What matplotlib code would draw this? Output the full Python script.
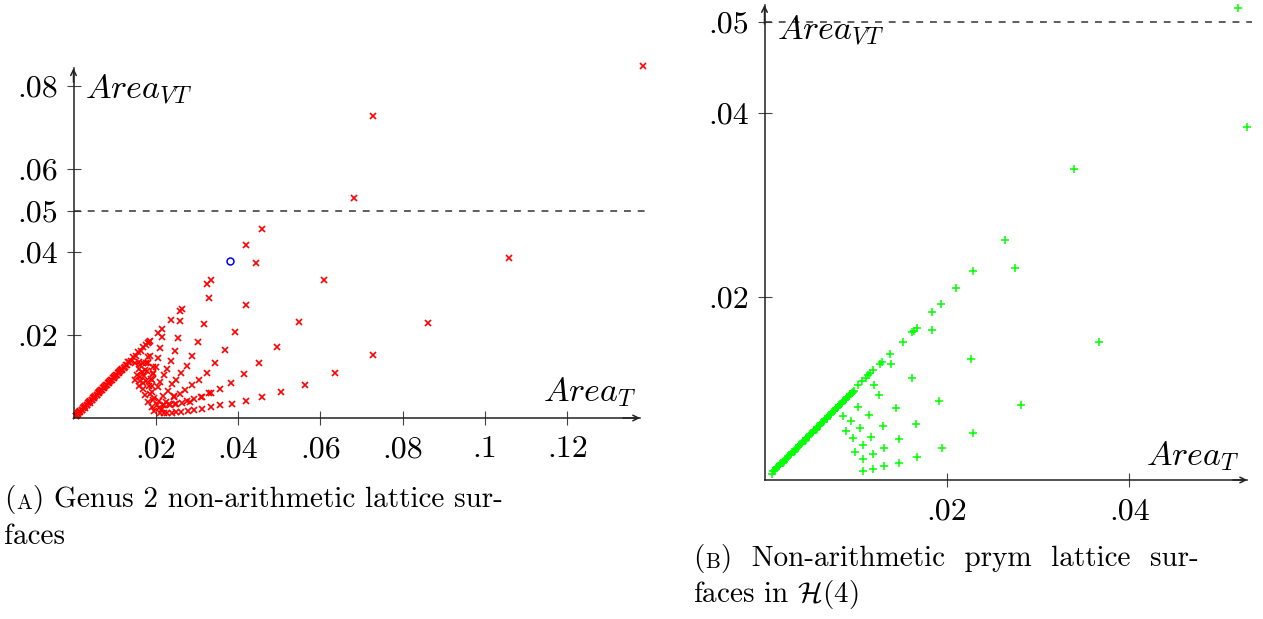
import matplotlib
matplotlib.use('Agg')
import matplotlib.pyplot as plt

plt.rcParams['font.family'] = 'cmr10'
plt.rcParams['mathtext.fontset'] = 'cm'
plt.rcParams['axes.unicode_minus'] = False

# ---- (A) genus 2, red crosses ----
diag_a_x = [0.0005, 0.0008, 0.0011, 0.0014, 0.0017, 0.0020, 0.0023, 0.0026, 0.0029, 0.0032,
            0.0035, 0.0038, 0.0041, 0.0044, 0.0047, 0.0050, 0.0053, 0.0056, 0.0059, 0.0062,
            0.0065, 0.0068, 0.0071, 0.0074, 0.0077, 0.0080, 0.0083, 0.0086, 0.0089, 0.0092,
            0.0095, 0.0098, 0.0101, 0.0104, 0.0107, 0.0110, 0.0113, 0.0116, 0.0119, 0.0122,
            0.0127, 0.0133, 0.0139, 0.0145, 0.0151, 0.0157, 0.0163, 0.0169, 0.0175, 0.0180,
            0.0184, 0.0187,
            0.0007, 0.0012, 0.0016, 0.0021, 0.0027, 0.0033, 0.0039, 0.0045, 0.0051, 0.0057,
            0.0063, 0.0069, 0.0075, 0.0081, 0.0087, 0.0093, 0.0099, 0.0105, 0.0111, 0.0117,
            0.0124, 0.0130, 0.0136]
diag_a_y = [0.0006, 0.0008, 0.0012, 0.0014, 0.0018, 0.0020, 0.0024, 0.0026, 0.0030, 0.0032,
            0.0036, 0.0038, 0.0042, 0.0044, 0.0048, 0.0050, 0.0054, 0.0056, 0.0060, 0.0062,
            0.0066, 0.0068, 0.0072, 0.0074, 0.0078, 0.0080, 0.0084, 0.0086, 0.0090, 0.0092,
            0.0096, 0.0098, 0.0102, 0.0104, 0.0108, 0.0110, 0.0113, 0.0116, 0.0118, 0.0121,
            0.0128, 0.0134, 0.0138, 0.0146, 0.0150, 0.0158, 0.0162, 0.0170, 0.0176, 0.0181,
            0.0183, 0.0186,
            0.0005, 0.0010, 0.0015, 0.0019, 0.0025, 0.0031, 0.0037, 0.0043, 0.0049, 0.0055,
            0.0061, 0.0067, 0.0073, 0.0079, 0.0085, 0.0091, 0.0097, 0.0103, 0.0109, 0.0115,
            0.0122, 0.0128, 0.0134]

fan_a_x = [0.0459, 0.0419, 0.0444, 0.0334, 0.0324, 0.0610, 0.0329, 0.0419, 0.0264, 0.0260,
           0.0548, 0.0238, 0.0260, 0.0316, 0.0216, 0.0393, 0.0205, 0.0216, 0.0255, 0.0303,
           0.0495, 0.0367, 0.0246, 0.0211, 0.0289, 0.0451, 0.0344, 0.0237, 0.0205, 0.0276,
           0.0636, 0.0414, 0.0324, 0.0262, 0.0228, 0.0304, 0.0382, 0.0563, 0.0249, 0.0287,
           0.0239, 0.0355, 0.0505, 0.0271, 0.0330, 0.0311, 0.0458, 0.0258, 0.0244, 0.0419,
           0.0386, 0.0357, 0.0335, 0.0313, 0.0294, 0.0278, 0.0262, 0.0250, 0.0239, 0.0228,
           0.0219, 0.0283, 0.0264, 0.0246, 0.0231, 0.0217,
           0.0200, 0.0193, 0.0220, 0.0188, 0.0211, 0.0177, 0.0183, 0.0205, 0.0229, 0.0190,
           0.0217, 0.0245, 0.0276, 0.0195, 0.0207, 0.0225, 0.0202, 0.0221, 0.0235, 0.0249,
           0.0294, 0.0312, 0.0333, 0.0181, 0.0176, 0.0179, 0.0215, 0.0209, 0.0210,
           0.0149, 0.0158, 0.0162, 0.0170, 0.0158, 0.0166, 0.0174, 0.0154, 0.0162, 0.0172,
           0.0149, 0.0162, 0.0170, 0.0158, 0.0168, 0.0191, 0.0174, 0.0186, 0.0182, 0.0194,
           0.0190, 0.0196, 0.0186, 0.0193, 0.0193, 0.0191, 0.0180]
fan_a_y = [0.0455, 0.0417, 0.0374, 0.0333, 0.0322, 0.0333, 0.0288, 0.0272, 0.0262, 0.0259,
           0.0231, 0.0237, 0.0234, 0.0226, 0.0215, 0.0207, 0.0204, 0.0196, 0.0192, 0.0182,
           0.0171, 0.0164, 0.0161, 0.0168, 0.0150, 0.0133, 0.0133, 0.0137, 0.0145, 0.0126,
           0.0108, 0.0105, 0.0109, 0.0108, 0.0117, 0.0092, 0.0085, 0.0080, 0.0092, 0.0079,
           0.0081, 0.0071, 0.0063, 0.0068, 0.0060, 0.0051, 0.0050, 0.0059, 0.0054, 0.0042,
           0.0034, 0.0031, 0.0026, 0.0022, 0.0020, 0.0017, 0.0015, 0.0014, 0.0013, 0.0011,
           0.0011, 0.0038, 0.0035, 0.0034, 0.0033, 0.0031,
           0.0124, 0.0105, 0.0103, 0.0093, 0.0087, 0.0088, 0.0078, 0.0075, 0.0066, 0.0063,
           0.0053, 0.0050, 0.0041, 0.0049, 0.0041, 0.0039, 0.0031, 0.0031, 0.0031, 0.0033,
           0.0045, 0.0051, 0.0060, 0.0148, 0.0132, 0.0113, 0.0021, 0.0023, 0.0011,
           0.0132, 0.0136, 0.0128, 0.0132, 0.0118, 0.0112, 0.0116, 0.0104, 0.0100, 0.0101,
           0.0092, 0.0088, 0.0084, 0.0076, 0.0069, 0.0076, 0.0055, 0.0059, 0.0039, 0.0043,
           0.0027, 0.0016, 0.0149, 0.0124, 0.0108, 0.0092, 0.0133]

far_a_x = [0.1384, 0.0728, 0.0682, 0.1058, 0.0861, 0.0728]
far_a_y = [0.0848, 0.0728, 0.0530, 0.0386, 0.0229, 0.0152]

blue_x = [0.0380]
blue_y = [0.0378]

# ---- (B) prym H(4), green plus signs ----
diag_b_x = [0.0008, 0.0010, 0.0012, 0.0014, 0.0016, 0.0018, 0.0020, 0.0022, 0.0024, 0.0026,
            0.0028, 0.0030, 0.0032, 0.0034, 0.0036, 0.0038, 0.0040, 0.0042, 0.0044, 0.0046,
            0.0048, 0.0050, 0.0052, 0.0054, 0.0056, 0.0058, 0.0060, 0.0062, 0.0064, 0.0066,
            0.0068, 0.0070, 0.0072, 0.0074, 0.0076, 0.0078, 0.0080, 0.0082, 0.0084, 0.0086,
            0.0088, 0.0090, 0.0092, 0.0094, 0.0096,
            0.0009, 0.0013, 0.0017, 0.0021, 0.0025, 0.0029, 0.0033, 0.0037, 0.0041, 0.0045,
            0.0049, 0.0053, 0.0057, 0.0061, 0.0065, 0.0069, 0.0073, 0.0077, 0.0081, 0.0085,
            0.0089, 0.0093, 0.0097]
diag_b_y = [0.0007, 0.0010, 0.0011, 0.0014, 0.0015, 0.0018, 0.0019, 0.0022, 0.0023, 0.0026,
            0.0027, 0.0030, 0.0031, 0.0034, 0.0035, 0.0038, 0.0039, 0.0042, 0.0043, 0.0046,
            0.0047, 0.0050, 0.0051, 0.0054, 0.0055, 0.0058, 0.0059, 0.0062, 0.0063, 0.0066,
            0.0067, 0.0070, 0.0071, 0.0074, 0.0075, 0.0078, 0.0079, 0.0082, 0.0083, 0.0086,
            0.0087, 0.0090, 0.0091, 0.0094, 0.0095,
            0.0010, 0.0013, 0.0017, 0.0020, 0.0024, 0.0028, 0.0032, 0.0036, 0.0040, 0.0044,
            0.0048, 0.0052, 0.0056, 0.0060, 0.0064, 0.0068, 0.0072, 0.0076, 0.0080, 0.0084,
            0.0088, 0.0092, 0.0096]

rest_b_x = [0.0519, 0.0529, 0.0367, 0.0339, 0.0264, 0.0275, 0.0229, 0.0210, 0.0193, 0.0184,
            0.0184, 0.0167, 0.0164, 0.0162, 0.0152, 0.0137, 0.0129, 0.0127, 0.0139, 0.0226,
            0.0119, 0.0116, 0.0113, 0.0111, 0.0107, 0.0120, 0.0103, 0.0098, 0.0162, 0.0125,
            0.0191, 0.0281, 0.0144, 0.0102, 0.0086, 0.0115, 0.0166, 0.0095, 0.0130, 0.0105,
            0.0229, 0.0089, 0.0097, 0.0117, 0.0147, 0.0108, 0.0131, 0.0194, 0.0099, 0.0119,
            0.0108, 0.0167, 0.0147, 0.0131, 0.0119, 0.0108]
rest_b_y = [0.0515, 0.0385, 0.0151, 0.0339, 0.0262, 0.0231, 0.0228, 0.0209, 0.0192, 0.0183,
            0.0164, 0.0166, 0.0163, 0.0161, 0.0151, 0.0137, 0.0129, 0.0126, 0.0126, 0.0132,
            0.0120, 0.0117, 0.0114, 0.0111, 0.0108, 0.0104, 0.0104, 0.0097, 0.0111, 0.0093,
            0.0086, 0.0082, 0.0079, 0.0080, 0.0070, 0.0071, 0.0061, 0.0064, 0.0059, 0.0057,
            0.0051, 0.0053, 0.0046, 0.0047, 0.0045, 0.0038, 0.0035, 0.0035, 0.0031, 0.0028,
            0.0023, 0.0025, 0.0019, 0.0015, 0.0012, 0.0010]

ticks_a_x = [0.02, 0.04, 0.06, 0.08, 0.1, 0.12]
labels_a_x = ['.02', '.04', '.06', '.08', '.1', '.12']
ticks_a_y = [0.02, 0.04, 0.05, 0.06, 0.08]
labels_a_y = ['.02', '.04', '.05', '.06', '.08']
ticks_b_x = [0.02, 0.04]
labels_b_x = ['.02', '.04']
ticks_b_y = [0.02, 0.04, 0.05]
labels_b_y = ['.02', '.04', '.05']

W, H = 1263, 619
fig = plt.figure(figsize=(W / 100, H / 100), dpi=100)


def setup(ax, xmax, ymax, xt, xl, yt, yl):
    ax.set_xlim(0, xmax)
    ax.set_ylim(0, ymax)
    for s in ['top', 'right']:
        ax.spines[s].set_visible(False)
    for s in ['left', 'bottom']:
        ax.spines[s].set_linewidth(1.1)
        ax.spines[s].set_color('#222222')
    ax.set_xticks(xt)
    ax.set_xticklabels(xl)
    ax.set_yticks(yt)
    ax.set_yticklabels(yl)
    ax.tick_params(direction='inout', length=10, width=0.8, color='#444444',
                   labelsize=23, pad=6)
    ax.tick_params(axis='x', pad=8)
    # arrow heads on the axes
    ax.annotate('', xy=(1.0, 0), xytext=(0.97, 0), xycoords='axes fraction',
                arrowprops=dict(arrowstyle='->', lw=1.1, color='#222222',
                                shrinkA=0, shrinkB=0))
    ax.annotate('', xy=(0, 1.0), xytext=(0, 0.96), xycoords='axes fraction',
                arrowprops=dict(arrowstyle='->', lw=1.1, color='#222222',
                                shrinkA=0, shrinkB=0))
    ax.axhline(0.05, xmin=0, xmax=1.01, color='#333333', lw=1.1,
               ls=(0, (4.5, 4.5)), clip_on=False)


red = dict(ls='none', marker='x', ms=3.8, mew=1.2, color='red', clip_on=False)
green = dict(ls='none', marker='+', ms=5.5, mew=1.1, color='#00ff00', clip_on=False)

# left panel
axa = fig.add_axes([73.5 / W, (H - 418) / H, 566.6 / W, 349.8 / H])
setup(axa, 0.1377, 0.0843, ticks_a_x, labels_a_x, ticks_a_y, labels_a_y)
axa.plot(diag_a_x, diag_a_y, **red)
axa.plot(fan_a_x, fan_a_y, **red)
axa.plot(far_a_x, far_a_y, **red)
axa.plot(blue_x, blue_y, ls='none', marker='o', ms=5, mew=1.1, mfc='none', mec='blue',
         clip_on=False)

# right panel
axb = fig.add_axes([764.5 / W, (H - 480) / H, 482.7 / W, 475 / H])
setup(axb, 0.0529, 0.0518, ticks_b_x, labels_b_x, ticks_b_y, labels_b_y)
axb.plot(diag_b_x, diag_b_y, **green)
axb.plot(rest_b_x, rest_b_y, **green)

# axis names
fig.text(85 / W, 1 - 99 / H, r'$Area_{VT}$', fontsize=24.5)
fig.text(543 / W, 1 - 401 / H, r'$Area_T$', fontsize=24.5)
fig.text(777 / W, 1 - 40 / H, r'$Area_{VT}$', fontsize=24.5)
fig.text(1146 / W, 1 - 465 / H, r'$Area_T$', fontsize=24.5)

# captions (small-caps letter drawn smaller)
cap = 21
ta = fig.text(4 / W, 1 - 507 / H, '(', fontsize=cap)
axa.annotate('A', xy=(1, 0), xycoords=ta, fontsize=cap * 0.72, va='bottom',
             xytext=(0.5, 0.5), textcoords='offset points')
axa.annotate(') Genus 2 non-arithmetic lattice sur-', xy=(1, 0), xycoords=ta, fontsize=cap,
             va='bottom', xytext=(13, 0), textcoords='offset points')
fig.text(4 / W, 1 - 544 / H, 'faces', fontsize=cap)

tb = fig.text(693 / W, 1 - 566 / H, '(', fontsize=cap)
axb.annotate('B', xy=(1, 0), xycoords=tb, fontsize=cap * 0.72, va='bottom',
             xytext=(0.5, 0.5), textcoords='offset points')
axb.annotate(')  Non-arithmetic  prym  lattice  sur-', xy=(1, 0), xycoords=tb, fontsize=cap,
             va='bottom', xytext=(12, 0), textcoords='offset points')
fig.text(693 / W, 1 - 602 / H, r'faces in $\mathcal{H}(4)$', fontsize=cap)

fig.savefig('out.png', dpi=100)
